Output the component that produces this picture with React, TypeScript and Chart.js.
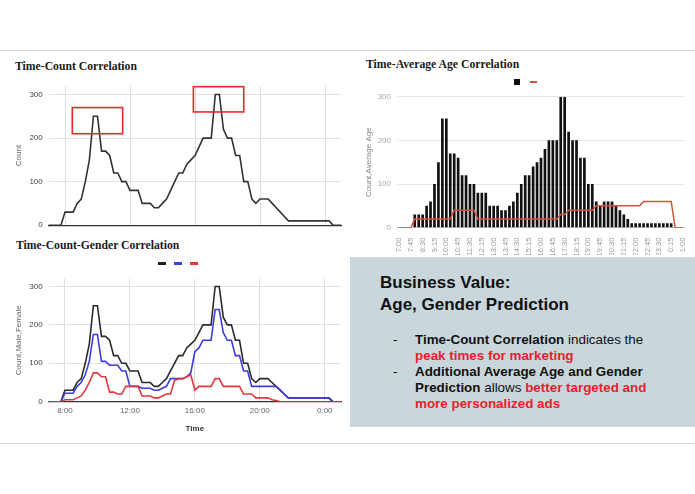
import React, { useEffect, useRef } from "react";
import { Chart, registerables } from "chart.js";
Chart.register(...registerables);
Chart.defaults.font.family = "'Liberation Sans', Arial, sans-serif";

// ---------- data ----------
const TIMES = [
  "7:00","7:15","7:30","7:45","8:00","8:15","8:30","8:45","9:00","9:15","9:30","9:45",
  "10:00","10:15","10:30","10:45","11:00","11:15","11:30","11:45","12:00","12:15","12:30","12:45",
  "13:00","13:15","13:30","13:45","14:00","14:15","14:30","14:45","15:00","15:15","15:30","15:45",
  "16:00","16:15","16:30","16:45","17:00","17:15","17:30","17:45","18:00","18:15","18:30","18:45",
  "19:00","19:15","19:30","19:45","20:00","20:15","20:30","20:45","21:00","21:15","21:30","21:45",
  "22:00","22:15","22:30","22:45","23:00","23:15","23:30","23:45","0:00","0:15","0:30","0:45","1:00",
];
const COUNT = [
  0,0,0,0,30,30,30,50,60,100,
  150,250,250,170,170,160,120,120,100,100,
  80,80,80,50,50,50,40,40,50,60,
  80,100,120,120,140,150,160,180,200,200,
  200,300,300,220,200,200,160,160,100,100,
  60,50,60,60,60,50,40,30,20,10,
  10,10,10,10,10,10,10,10,10,10,
  0,0,0,
];
const AVG_AGE = [
  0,0,0,0,20,20,20,20,20,20,
  20,20,20,20,40,40,40,40,40,40,
  20,20,20,20,20,20,20,20,20,20,
  20,20,20,20,20,20,20,20,20,20,
  20,30,30,40,40,40,40,40,40,40,
  50,50,50,50,50,50,50,50,50,50,
  50,50,60,60,60,60,60,60,60,60,
  0,0,0,
];
const MALE = [
  0,0,0,0,22,22,22,40,50,70,
  105,175,175,105,105,95,95,95,80,80,
  40,40,40,35,35,35,30,30,35,40,
  60,60,60,60,65,75,130,140,160,160,
  160,240,240,180,160,160,120,120,80,80,
  40,40,40,40,40,40,40,30,20,10,
  10,10,10,10,10,10,10,10,10,10,
  0,0,0,
];
const FEMALE = [
  0,0,0,0,5,5,5,10,15,30,
  50,75,75,65,65,25,25,20,20,40,
  40,40,40,15,15,15,10,10,15,20,
  20,55,60,60,65,70,30,40,40,40,
  40,60,60,40,40,40,40,40,20,20,
  20,10,10,10,10,5,3,0,0,0,
  0,0,0,0,0,0,0,0,0,0,
  0,0,0,
];
const Y_TICKS = [0, 100, 200, 300];
const GRID_TIMES = ["8:00", "12:00", "16:00", "20:00", "0:00"];
// highlight boxes on the Time-Count chart (hours of day, count range)
const HL_START_HOUR = [8.45, 15.9];
const HL_END_HOUR = [11.55, 19.0];
const HL_LOW = [210, 260];
const HL_HIGH = [270, 318];

const START_HOUR = 7;
const hourToSlot = (h: number) => (h - START_HOUR) * 4;

const highlightPlugin = {
  id: "highlight",
  afterDatasetsDraw(chart: any) {
    const { ctx, scales } = chart;
    const x = scales.x, y = scales.y;
    ctx.save();
    ctx.strokeStyle = "#e8262b";
    ctx.lineWidth = 1.6;
    for (let i = 0; i < HL_START_HOUR.length; i++) {
      const x1 = x.getPixelForValue(hourToSlot(HL_START_HOUR[i]));
      const x2 = x.getPixelForValue(hourToSlot(HL_END_HOUR[i]));
      const y1 = y.getPixelForValue(HL_HIGH[i]);
      const y2 = y.getPixelForValue(HL_LOW[i]);
      ctx.strokeRect(x1, y1, x2 - x1, y2 - y1);
    }
    ctx.restore();
  },
};

function ChartBox({ left, top, width, height, make }: any) {
  const ref = useRef<HTMLCanvasElement>(null);
  useEffect(() => {
    const c = new Chart(ref.current as HTMLCanvasElement, make());
    return () => c.destroy();
  }, []);
  return (
    <canvas
      ref={ref}
      width={width}
      height={height}
      style={{ position: "absolute", left, top, width, height }}
    />
  );
}

const baseOpts = {
  animation: false,
  responsive: false,
  devicePixelRatio: 1,
  events: [],
};

const countConfig = () => ({
  type: "line",
  data: {
    labels: TIMES,
    datasets: [
      { data: COUNT, borderColor: "#333", borderWidth: 1.6, pointRadius: 0, tension: 0 },
    ],
  },
  options: {
    ...baseOpts,
    layout: { padding: { left: 10, right: 3.75, top: 5.3, bottom: 0 } },
    plugins: { legend: { display: false }, tooltip: { enabled: false } },
    scales: {
      x: {
        type: "category",
        offset: false,
        ticks: { display: false },
        grid: {
          color: (c: any) => (GRID_TIMES.includes(TIMES[c.index]) ? "#dedede" : "rgba(0,0,0,0)"),
          drawTicks: false,
        },
        border: { color: "#333", width: 1.3 },
        afterFit: (s: any) => { s.height = 6; },
      },
      y: {
        min: 0,
        max: 320,
        afterBuildTicks: (s: any) => { s.ticks = Y_TICKS.map((v) => ({ value: v })); },
        grid: {
          color: (c: any) => (c.tick && c.tick.value === 0 ? "rgba(0,0,0,0)" : "#e2e2e2"),
          drawTicks: false,
        },
        border: { display: false },
        ticks: { font: { size: 8 }, color: "#444", padding: 6 },
        title: { display: true, text: "Count", font: { size: 8 }, color: "#666" },
        afterFit: (s: any) => { s.width = 38.75; },
      },
    },
  },
  plugins: [highlightPlugin],
});

const ageConfig = () => ({
  type: "bar",
  data: {
    labels: TIMES,
    datasets: [
      { type: "line", data: AVG_AGE, borderColor: "#d6533c", borderWidth: 1.5, pointRadius: 0, order: 0 },
      { type: "bar", data: COUNT, backgroundColor: "#111", barPercentage: 0.68, categoryPercentage: 1, order: 1 },
    ],
  },
  options: {
    ...baseOpts,
    layout: { padding: { left: 15, right: 10, top: 11.7, bottom: 0 } },
    plugins: { legend: { display: false }, tooltip: { enabled: false } },
    scales: {
      x: {
        offset: true,
        grid: { display: false },
        border: { display: false },
        ticks: {
          autoSkip: false,
          minRotation: 90,
          maxRotation: 90,
          font: { size: 7.5 },
          color: "#999",
          padding: 2,
          callback: (_v: any, i: number) => (i % 3 === 0 ? TIMES[i] : ""),
        },
        afterFit: (s: any) => { s.height = 27.3; },
      },
      y: {
        min: 0,
        max: 300,
        afterBuildTicks: (s: any) => { s.ticks = Y_TICKS.map((v) => ({ value: v })); },
        grid: {
          color: (c: any) => (c.tick && c.tick.value === 0 ? "#bdbdbd" : "#e6e6e6"),
          drawTicks: false,
        },
        border: { display: false },
        ticks: { font: { size: 8 }, color: "#aaa", padding: 6 },
        title: { display: true, text: "Count,Average Age", font: { size: 8 }, color: "#888" },
        afterFit: (s: any) => { s.width = 37; },
      },
    },
  },
});

const genderConfig = () => ({
  type: "line",
  data: {
    labels: TIMES,
    datasets: [
      { data: COUNT, borderColor: "#2b2b2b", borderWidth: 1.6, pointRadius: 0, order: 3 },
      { data: MALE, borderColor: "#3c3ce0", borderWidth: 1.6, pointRadius: 0, order: 2 },
      { data: FEMALE, borderColor: "#e5373a", borderWidth: 1.6, pointRadius: 0, order: 1 },
    ],
  },
  options: {
    ...baseOpts,
    layout: { padding: { left: 10, right: 4, top: 3.5, bottom: 0 } },
    plugins: { legend: { display: false }, tooltip: { enabled: false } },
    scales: {
      x: {
        type: "category",
        offset: false,
        ticks: {
          autoSkip: false,
          maxRotation: 0,
          font: { size: 8 },
          color: "#666",
          padding: 4,
          callback: (_v: any, i: number) => (GRID_TIMES.includes(TIMES[i]) ? TIMES[i] : ""),
        },
        grid: {
          color: (c: any) => (GRID_TIMES.includes(TIMES[c.index]) ? "#dedede" : "rgba(0,0,0,0)"),
          drawTicks: false,
        },
        border: { color: "#333", width: 1.3 },
        title: { display: true, text: "Time", font: { size: 8, weight: "bold" }, color: "#333", padding: { top: 4, bottom: 6 } },
        afterFit: (s: any) => { s.height = 38.3; },
      },
      y: {
        min: 0,
        max: 320,
        afterBuildTicks: (s: any) => { s.ticks = Y_TICKS.map((v) => ({ value: v })); },
        grid: {
          color: (c: any) => (c.tick && c.tick.value === 0 ? "rgba(0,0,0,0)" : "#e2e2e2"),
          drawTicks: false,
        },
        border: { display: false },
        ticks: { font: { size: 8 }, color: "#444", padding: 6 },
        title: { display: true, text: "Count,Male,Female", font: { size: 8 }, color: "#666" },
        afterFit: (s: any) => { s.width = 38.7; },
      },
    },
  },
});

const titleStyle: React.CSSProperties = {
  position: "absolute",
  fontFamily: "'Liberation Serif', 'Times New Roman', serif",
  fontWeight: "bold",
  fontSize: 11.7,
  lineHeight: "14px",
  color: "#1a1a1a",
  whiteSpace: "nowrap",
};

const RED = "#e8202a";

export default function App() {
  return (
    <div
      style={{
        position: "fixed",
        left: 0,
        top: 0,
        width: 695,
        height: 494,
        background: "#fff",
        overflow: "hidden",
      }}
    >
      <div style={{ position: "absolute", left: 0, top: 50, width: 695, height: 1, background: "#d9d9d9" }} />
      <div style={{ position: "absolute", left: 0, top: 443, width: 695, height: 1, background: "#d9d9d9" }} />

      <div style={{ ...titleStyle, left: 15, top: 60 }}>Time-Count Correlation</div>
      <div style={{ ...titleStyle, left: 366, top: 58 }}>Time-Average Age Correlation</div>
      <div style={{ ...titleStyle, left: 16, top: 239 }}>Time-Count-Gender Correlation</div>

      <ChartBox left={0} top={75} width={345} height={161} make={countConfig} />
      <ChartBox left={345} top={85} width={350} height={170} make={ageConfig} />
      <ChartBox left={0} top={268} width={345} height={172} make={genderConfig} />

      {/* legend: average age chart */}
      <div style={{ position: "absolute", left: 514, top: 79, width: 6, height: 6, background: "#111" }} />
      <div style={{ position: "absolute", left: 530, top: 81, width: 7, height: 2, background: "#d6533c" }} />

      {/* legend: gender chart */}
      <div style={{ position: "absolute", left: 158, top: 262, width: 8, height: 2.5, background: "#222" }} />
      <div style={{ position: "absolute", left: 174, top: 262, width: 8, height: 2.5, background: "#3c3ce0" }} />
      <div style={{ position: "absolute", left: 190, top: 262, width: 8, height: 2.5, background: "#e5373a" }} />

      {/* text box */}
      <div
        style={{
          position: "absolute",
          left: 350,
          top: 257,
          width: 345,
          height: 170,
          background: "#c9d7dd",
          fontFamily: "'Liberation Sans', Arial, sans-serif",
          color: "#111",
        }}
      >
        <div style={{ position: "absolute", left: 30, top: 15, fontSize: 17, fontWeight: "bold", lineHeight: "22px", whiteSpace: "nowrap" }}>
          Business Value:
          <br />
          Age, Gender Prediction
        </div>
        <div style={{ position: "absolute", left: 43, top: 75, fontSize: 13.4, lineHeight: "16px", whiteSpace: "nowrap" }}>
          <div style={{ position: "relative", paddingLeft: 22 }}>
            <span style={{ position: "absolute", left: 0, top: 0 }}>-</span>
            <b>Time-Count Correlation</b> indicates the
            <br />
            <b style={{ color: RED }}>peak times for marketing</b>
          </div>
          <div style={{ position: "relative", paddingLeft: 22 }}>
            <span style={{ position: "absolute", left: 0, top: 0 }}>-</span>
            <b>Additional Average Age and Gender</b>
            <br />
            <b>Prediction</b> allows <b style={{ color: RED }}>better targeted and</b>
            <br />
            <b style={{ color: RED }}>more personalized ads</b>
          </div>
        </div>
      </div>
    </div>
  );
}
